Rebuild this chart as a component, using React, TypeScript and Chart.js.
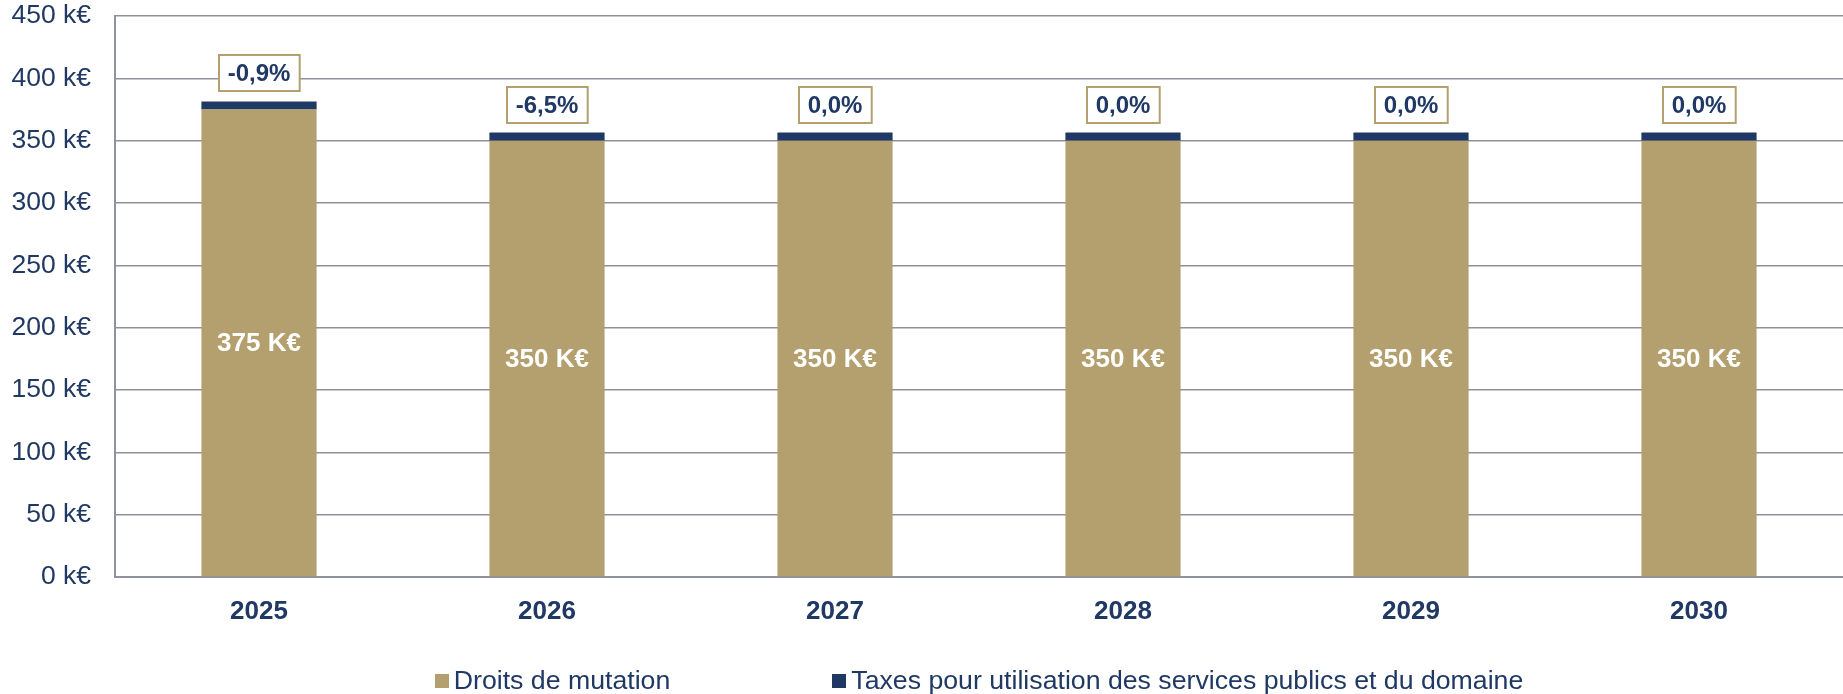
import React, { useEffect, useRef } from "react";
import { Chart, registerables } from "chart.js";

Chart.register(...registerables);

const categories = ["2025", "2026", "2027", "2028", "2029", "2030"];
const droitsDeMutation = [375, 350, 350, 350, 350, 350];
const taxesServices = [6.5, 6.5, 6.5, 6.5, 6.5, 6.5];
const variations = [-0.9, -6.5, 0.0, 0.0, 0.0, 0.0];
const seriesLabels = [
  "Droits de mutation",
  "Taxes pour utilisation des services publics et du domaine",
];
const yMax = 450;
const yStep = 50;

const GOLD = "#B3A06E";
const NAVY = "#1F3864";
const GRID = "#8F919D";
const FONT = "'Liberation Sans', Arial, sans-serif";

const fmtPct = (v: number) => v.toFixed(1).replace(".", ",") + "%";

const overlayPlugin = {
  id: "overlay",
  afterDatasetsDraw(chart: any) {
    const ctx = chart.ctx;
    const m0 = chart.getDatasetMeta(0);
    const m1 = chart.getDatasetMeta(1);
    ctx.save();
    ctx.font = `bold 26px ${FONT}`;
    ctx.fillStyle = "#FFFFFF";
    ctx.textAlign = "center";
    ctx.textBaseline = "middle";
    m0.data.forEach((bar: any, i: number) => {
      const cy = (bar.y + bar.base) / 2;
      ctx.fillText(`${droitsDeMutation[i]} K€`, bar.x, cy + 1);
    });
    ctx.font = `bold 24px ${FONT}`;
    m1.data.forEach((bar: any, i: number) => {
      const txt = fmtPct(variations[i]);
      const w = ctx.measureText(txt).width + 18;
      const h = 36;
      const bottom = bar.y - 10;
      const x0 = Math.round(bar.x - w / 2);
      const y0 = Math.round(bottom - h);
      ctx.fillStyle = "#FFFFFF";
      ctx.fillRect(x0, y0, w, h);
      ctx.strokeStyle = GOLD;
      ctx.lineWidth = 2;
      ctx.strokeRect(x0, y0, w, h);
      ctx.fillStyle = NAVY;
      ctx.fillText(txt, bar.x, y0 + h / 2 + 1);
    });
    ctx.restore();
  },
  afterDraw(chart: any) {
    const ctx = chart.ctx;
    const area = chart.chartArea;
    ctx.save();
    ctx.font = `26.7px ${FONT}`;
    ctx.textBaseline = "middle";
    ctx.textAlign = "left";
    const box = 14;
    const gapBoxText = 5;
    const gapItems = 162;
    const widths = seriesLabels.map((l) => ctx.measureText(l).width);
    const total =
      widths.reduce((a, w) => a + box + gapBoxText + w, 0) +
      gapItems * (seriesLabels.length - 1);
    let x = (area.left + area.right) / 2 - total / 2;
    const cy = 681;
    chart.data.datasets.forEach((ds: any, i: number) => {
      ctx.fillStyle = ds.backgroundColor;
      ctx.fillRect(Math.round(x), cy - box / 2, box, box);
      ctx.fillStyle = NAVY;
      ctx.fillText(seriesLabels[i], x + box + gapBoxText, cy + 1);
      x += box + gapBoxText + widths[i] + gapItems;
    });
    ctx.restore();
  },
};

export default function App() {
  const ref = useRef<HTMLCanvasElement | null>(null);

  useEffect(() => {
    document.body.style.margin = "0";
    if (!ref.current) return;
    const chart = new Chart(ref.current, {
      type: "bar",
      data: {
        labels: categories,
        datasets: [
          {
            label: seriesLabels[0],
            data: droitsDeMutation,
            backgroundColor: GOLD,
            barPercentage: 0.4,
            categoryPercentage: 1.0,
          },
          {
            label: seriesLabels[1],
            data: taxesServices,
            backgroundColor: NAVY,
            barPercentage: 0.4,
            categoryPercentage: 1.0,
          },
        ],
      },
      options: {
        animation: false,
        responsive: false,
        maintainAspectRatio: false,
        layout: { padding: { top: 16, left: 0, right: 0, bottom: 0 } },
        plugins: {
          legend: { display: false },
          tooltip: { enabled: false },
        },
        scales: {
          x: {
            stacked: true,
            grid: { display: false, drawTicks: false },
            border: { display: true, color: GRID, width: 2 },
            ticks: {
              color: NAVY,
              font: { family: FONT, size: 26, weight: "bold" },
              padding: 19,
            },
            afterFit: (scale: any) => {
              scale.height = 117;
              scale.paddingLeft = 0;
              scale.paddingRight = 0;
            },
          },
          y: {
            stacked: true,
            min: 0,
            max: yMax,
            grid: { color: GRID, lineWidth: 1.5, drawTicks: false },
            border: { display: true, color: GRID, width: 2 },
            ticks: {
              stepSize: yStep,
              color: NAVY,
              font: { family: FONT, size: 26.5 },
              padding: 24,
              callback: (v: any) => `${v} k€`,
            },
            afterFit: (scale: any) => {
              scale.width = 115;
              scale.paddingTop = 0;
              scale.paddingBottom = 0;
            },
          },
        },
      },
      plugins: [overlayPlugin],
    });
    return () => chart.destroy();
  }, []);

  return (
    <div style={{ width: 1843, height: 694 }}>
      <canvas ref={ref} width={1843} height={694} style={{ width: 1843, height: 694 }} />
    </div>
  );
}
